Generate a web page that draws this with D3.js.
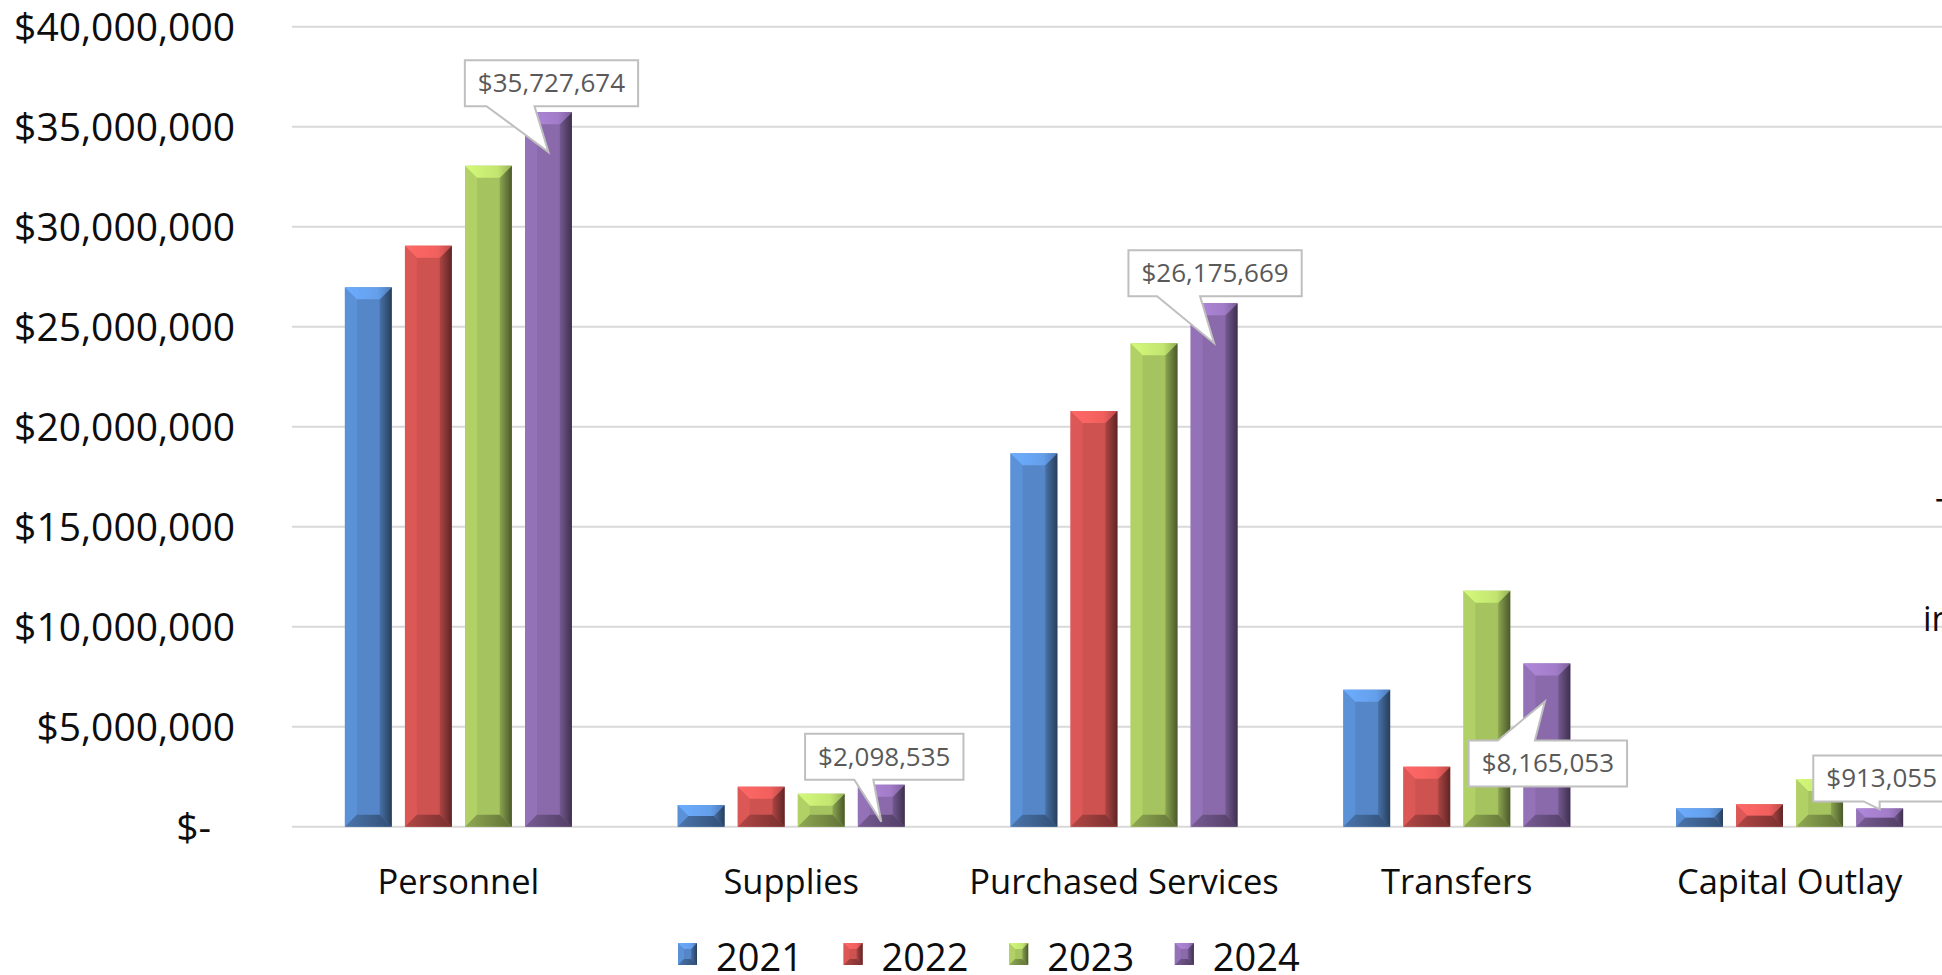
<!DOCTYPE html>
<html>
<head>
<meta charset="utf-8">
<script src="https://cdn.jsdelivr.net/npm/d3@7/dist/d3.min.js"></script>
<style>
  html, body { margin: 0; padding: 0; background: #fff; overflow: hidden; }
  svg { display: block; font-family: "Segoe UI", "Open Sans", sans-serif; }
</style>
</head>
<body>
<svg id="chart" width="1942" height="975"></svg>
<script>
// ---------------- data ----------------
const categories = ["Personnel", "Supplies", "Purchased Services", "Transfers", "Capital Outlay"];
const seriesNames = ["2021", "2022", "2023", "2024"];
const values2021 = [26970000, 1080000, 18670000, 6850000, 920000];
const values2022 = [29050000, 2000000, 20780000, 3000000, 1120000];
const values2023 = [33050000, 1650000, 24170000, 11800000, 2380000];
const values2024 = [35727674, 2098535, 26175669, 8165053, 913055];
const yTickValues = [0, 5000000, 10000000, 15000000, 20000000, 25000000, 30000000, 35000000, 40000000];
const yTickLabels = ["$-", "$5,000,000", "$10,000,000", "$15,000,000", "$20,000,000", "$25,000,000", "$30,000,000", "$35,000,000", "$40,000,000"];
const labelledSeries = "2024";
const labelTexts = ["$35,727,674", "$2,098,535", "$26,175,669", "$8,165,053", "$913,055"];
const edgeTexts = ["T", "in"];

// ---------------- styles / layout ----------------
const seriesColors = ["#5587c8", "#cd5250", "#a5c35f", "#8a6aab"];
const W = 1942, H = 975;
const plot = { left: 292, right: 1956, top: 26.7, bottom: 826.7 };

const svg = d3.select("#chart");
const defs = svg.append("defs");

const x0 = d3.scaleBand().domain(categories).range([plot.left, plot.right]).paddingInner(0).paddingOuter(0);
const x1 = d3.scaleBand().domain(seriesNames).range([-113.5, 113.5]).paddingInner(0.22).paddingOuter(0);
const y = d3.scaleLinear().domain([0, 40000000]).range([plot.bottom, plot.top]);

const seriesValues = [values2021, values2022, values2023, values2024];

// gridlines
svg.append("g").selectAll("line").data(yTickValues).join("line")
  .attr("x1", plot.left).attr("x2", W + 20)
  .attr("y1", d => y(d)).attr("y2", d => y(d))
  .attr("stroke", "#d9d9d9").attr("stroke-width", 2);

// y axis labels
const yAxis = d3.axisLeft(y).tickValues(yTickValues).tickFormat((d, i) => yTickLabels[i]).tickSize(0).tickPadding(0);
const yg = svg.append("g").attr("transform", "translate(235,0)").call(yAxis);
yg.select(".domain").remove();
yg.selectAll("text").attr("font-size", 39).attr("fill", "#0d0d0d")
  .attr("font-family", "'Segoe UI','Open Sans',sans-serif")
  .attr("dy", "0.36em")
  .attr("dx", d => d === 0 ? -24 : 0);

// x axis labels
const xAxis = d3.axisBottom(x0).tickSize(0).tickPadding(0);
const xg = svg.append("g").attr("transform", `translate(0,${plot.bottom})`).call(xAxis);
xg.select(".domain").remove();
xg.selectAll("text").attr("font-size", 34.5).attr("fill", "#0d0d0d")
  .attr("font-family", "'Segoe UI','Open Sans',sans-serif")
  .attr("y", 67).attr("dy", 0);

// gradients per series
seriesColors.forEach((c, i) => {
  const col = d3.color(c);
  const g1 = defs.append("linearGradient").attr("id", "face" + i).attr("x1", 0).attr("x2", 1).attr("y1", 0).attr("y2", 0);
  g1.append("stop").attr("offset", "0%").attr("stop-color", col.brighter(0.25));
  g1.append("stop").attr("offset", "15%").attr("stop-color", col);
  g1.append("stop").attr("offset", "70%").attr("stop-color", col);
  g1.append("stop").attr("offset", "100%").attr("stop-color", col.darker(0.5));
  const g2 = defs.append("linearGradient").attr("id", "right" + i).attr("x1", 0).attr("x2", 1).attr("y1", 0).attr("y2", 0);
  g2.append("stop").attr("offset", "0%").attr("stop-color", col.darker(0.5));
  g2.append("stop").attr("offset", "100%").attr("stop-color", col.darker(2.2));
  const g3 = defs.append("linearGradient").attr("id", "top" + i).attr("x1", 0).attr("x2", 1).attr("y1", 0).attr("y2", 0);
  g3.append("stop").attr("offset", "0%").attr("stop-color", col.brighter(0.7));
  g3.append("stop").attr("offset", "70%").attr("stop-color", col.brighter(0.45));
  g3.append("stop").attr("offset", "100%").attr("stop-color", col.darker(0.3));
  const g4 = defs.append("linearGradient").attr("id", "bottom" + i).attr("x1", 0).attr("x2", 1).attr("y1", 0).attr("y2", 0);
  g4.append("stop").attr("offset", "0%").attr("stop-color", col.darker(0.4));
  g4.append("stop").attr("offset", "100%").attr("stop-color", col.darker(1.5));
});

function bevelBar(g, x, yTop, w, h, i, bMax) {
  const b = Math.min(bMax, w / 2, h / 2);
  const pts = a => a.map(p => p.join(",")).join(" ");
  g.append("rect").attr("x", x).attr("y", yTop).attr("width", w).attr("height", h).attr("fill", `url(#face${i})`);
  g.append("polygon").attr("points", pts([[x, yTop], [x + b, yTop + b], [x + b, yTop + h - b], [x, yTop + h]]))
    .attr("fill", d3.color(seriesColors[i]).brighter(0.2));
  g.append("polygon").attr("points", pts([[x + w, yTop], [x + w, yTop + h], [x + w - b, yTop + h - b], [x + w - b, yTop + b]]))
    .attr("fill", `url(#right${i})`);
  g.append("polygon").attr("points", pts([[x, yTop + h], [x + b, yTop + h - b], [x + w - b, yTop + h - b], [x + w, yTop + h]]))
    .attr("fill", `url(#bottom${i})`);
  g.append("polygon").attr("points", pts([[x, yTop], [x + w, yTop], [x + w - b, yTop + b], [x + b, yTop + b]]))
    .attr("fill", `url(#top${i})`);
}

// bars
const barsG = svg.append("g");
categories.forEach((cat, ci) => {
  const cx = x0(cat) + x0.bandwidth() / 2;
  seriesNames.forEach((s, si) => {
    const v = seriesValues[si][ci];
    const bx = cx + x1(s);
    const yt = y(v);
    bevelBar(barsG, bx, yt, x1.bandwidth(), y(0) - yt, si, 12);
  });
});

// callouts (2024 series)
const calloutLayout = [
  { dx: 3, dy: -29, baseL: -65, baseR: -17, tipDx: 0, tipDy: 40, side: "bottom" },
  { dx: 3, dy: -28, baseL: -30, baseR: -11, tipDx: 0, tipDy: 37, side: "bottom" },
  { dx: 1, dy: -30, baseL: -58, baseR: -15, tipDx: 0, tipDy: 40, side: "bottom" },
  { dx: 1, dy: 100, baseL: -50, baseR: -13, tipDx: -2, tipDy: 38, side: "top" },
  { dx: 2, dy: -30, baseL: -18, baseR: -2, tipDx: 0, tipDy: 1, side: "bottom" }
];
const si24 = seriesNames.indexOf(labelledSeries);
const calloutG = svg.append("g");
categories.forEach((cat, ci) => {
  const L = calloutLayout[ci];
  const v = seriesValues[si24][ci];
  const barCx = x0(cat) + x0.bandwidth() / 2 + x1(labelledSeries) + x1.bandwidth() / 2;
  const barTop = y(v);
  const bcx = barCx + L.dx, bcy = barTop + L.dy;
  const g = calloutG.append("g");
  const t = g.append("text").attr("x", bcx).attr("y", bcy + 9).attr("text-anchor", "middle")
    .attr("font-size", 26).attr("fill", "#595959").text(labelTexts[ci]);
  const tw = t.node().getComputedTextLength();
  const bw = tw + 26, bh = 46;
  const l = bcx - bw / 2, r = bcx + bw / 2, tp = bcy - bh / 2, bt = bcy + bh / 2;
  const tipX = barCx + L.tipDx, tipY = barTop + L.tipDy;
  let d;
  if (L.side === "bottom") {
    d = `M${l},${tp} L${r},${tp} L${r},${bt} L${bcx + L.baseR},${bt} L${tipX},${tipY} L${bcx + L.baseL},${bt} L${l},${bt} Z`;
  } else {
    d = `M${l},${tp} L${bcx + L.baseL},${tp} L${tipX},${tipY} L${bcx + L.baseR},${tp} L${r},${tp} L${r},${bt} L${l},${bt} Z`;
  }
  g.insert("path", "text").attr("d", d).attr("fill", "#fff").attr("stroke", "#bfbfbf").attr("stroke-width", 2).attr("stroke-linejoin", "miter");
});

// clipped texts at right edge
svg.append("text").attr("x", 1936).attr("y", 524).attr("font-size", 34).attr("fill", "#0d0d0d").text(edgeTexts[0]);
svg.append("text").attr("x", 1923).attr("y", 631).attr("font-size", 34).attr("fill", "#0d0d0d").text(edgeTexts[1]);

// legend
const legend = svg.append("g").attr("transform", "translate(678,0)");
seriesNames.forEach((s, i) => {
  const g = legend.append("g").attr("transform", `translate(${i * 165.6},0)`);
  bevelBar(g, 0, 943, 19, 22, i, 6);
  g.append("text").attr("x", 38).attr("y", 971).attr("font-size", 38).attr("fill", "#0d0d0d").text(s);
});
</script>
</body>
</html>
